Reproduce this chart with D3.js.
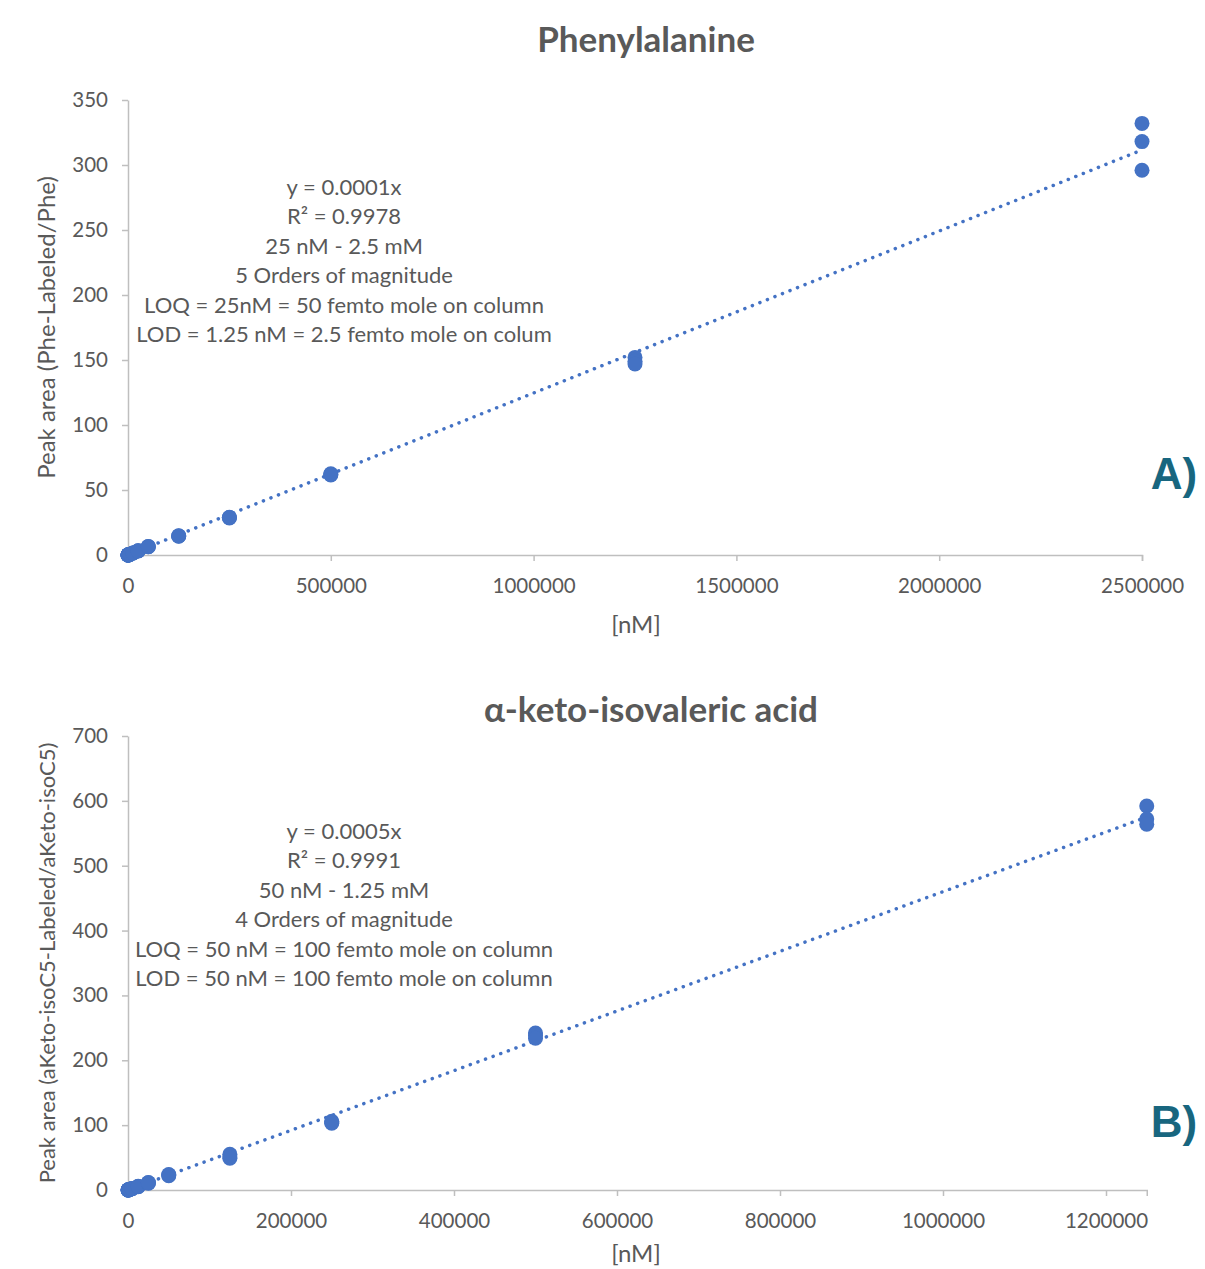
<!DOCTYPE html>
<html>
<head>
<meta charset="utf-8">
<script src="https://cdn.jsdelivr.net/npm/d3@7"></script>
<style>
  body { margin: 0; background: #fff; }
  svg text { font-family: Lato, "Open Sans", sans-serif; fill: #595959; }
</style>
</head>
<body>
<div id="wrapper"></div>
<script>
// --- Phenylalanine (panel A) ---
const concA = [
  25, 25, 50, 50, 125, 125, 250, 250, 500, 500, 1250, 1250, 2500, 2500,
  5000, 5000, 5000, 12500, 12500, 12500, 25000, 25000, 25000, 50000, 50000, 50000,
  125000, 125000, 125000, 250000, 250000, 250000, 500000, 500000, 500000,
  1250000, 1250000, 1250000, 2500000, 2500000, 2500000
];
const areaA = [
  0.004, 0.003, 0.007, 0.006, 0.016, 0.015, 0.032, 0.03, 0.063, 0.06, 0.16, 0.15, 0.32, 0.3,
  0.65, 0.62, 0.6, 1.6, 1.5, 1.55, 3.3, 3.1, 3.2, 6.6, 6.3, 6.4,
  14.8, 14.5, 14.6, 29, 28.5, 28.8, 62.5, 62, 61.5,
  152, 149, 147, 332, 318, 296
];
const slopeA = 0.0001246;
const xTicksA = [0, 500000, 1000000, 1500000, 2000000, 2500000];
const yTicksA = [0, 50, 100, 150, 200, 250, 300, 350];
const notesA = [
  "y = 0.0001x",
  "R² = 0.9978",
  "25 nM - 2.5 mM",
  "5 Orders of magnitude",
  "LOQ = 25nM = 50 femto mole on column",
  "LOD = 1.25 nM = 2.5 femto mole on colum"
];

// --- alpha-keto-isovaleric acid (panel B) ---
const concB = [
  50, 50, 125, 125, 250, 250, 500, 500, 1250, 1250, 2500, 2500,
  5000, 5000, 5000, 12500, 12500, 12500, 25000, 25000, 25000, 50000, 50000, 50000,
  125000, 125000, 125000, 250000, 250000, 250000, 500000, 500000, 500000,
  1250000, 1250000, 1250000
];
const areaB = [
  0.02, 0.025, 0.06, 0.055, 0.12, 0.11, 0.24, 0.22, 0.6, 0.58, 1.1, 1.2,
  2.3, 2.2, 2.1, 5.5, 5.2, 5.8, 11, 10.5, 11.5, 23, 22, 24,
  55, 51, 49, 106, 104, 103, 242, 238, 234,
  592, 572, 564
];
const slopeB = 0.00046;
const xTicksB = [0, 200000, 400000, 600000, 800000, 1000000, 1200000];
const yTicksB = [0, 100, 200, 300, 400, 500, 600, 700];
const notesB = [
  "y = 0.0005x",
  "R² = 0.9991",
  "50 nM - 1.25 mM",
  "4 Orders of magnitude",
  "LOQ = 50 nM = 100 femto mole on column",
  "LOD = 50 nM = 100 femto mole on column"
];

const width = 1205;
const height = 1269;
const dotColor = "#4472c4";
const axisColor = "#bfbfbf";

const svg = d3.select("#wrapper")
  .append("svg")
  .attr("width", width)
  .attr("height", height);

function drawPanel(cfg) {
  const g = svg.append("g");

  const xScale = d3.scaleLinear()
    .domain([0, cfg.xMax])
    .range([cfg.left, cfg.right]);
  const yScale = d3.scaleLinear()
    .domain([0, cfg.yMax])
    .range([cfg.bottom, cfg.top]);

  // axes
  const xAxis = g.append("g")
    .attr("transform", `translate(0,${cfg.bottom})`)
    .call(d3.axisBottom(xScale).tickValues(cfg.xTicks).tickFormat(d3.format("d")).tickSizeInner(6).tickSizeOuter(6).tickPadding(17));
  const yAxis = g.append("g")
    .attr("transform", `translate(${cfg.left},0)`)
    .call(d3.axisLeft(yScale).tickValues(cfg.yTicks).tickSizeInner(6).tickSizeOuter(0).tickPadding(14));

  [xAxis, yAxis].forEach(ax => {
    ax.selectAll("path, line").attr("stroke", axisColor).attr("stroke-width", 1.5);
    ax.selectAll("text").attr("font-size", 20.5).attr("fill", "#595959")
      .style("font-family", "Lato, 'Open Sans', sans-serif");
  });

  // trendline through origin (dotted)
  g.append("line")
    .attr("x1", xScale(0))
    .attr("y1", yScale(0))
    .attr("x2", xScale(cfg.xMax))
    .attr("y2", yScale(cfg.slope * cfg.xMax))
    .attr("stroke", dotColor)
    .attr("stroke-width", 3.5)
    .attr("stroke-linecap", "round")
    .attr("stroke-dasharray", "0.1 8");

  // points
  g.selectAll("circle")
    .data(d3.zip(cfg.conc, cfg.area))
    .enter().append("circle")
    .attr("cx", d => xScale(d[0]))
    .attr("cy", d => yScale(d[1]))
    .attr("r", 7.5)
    .attr("fill", dotColor);

  // title
  g.append("text")
    .attr("x", cfg.titleX)
    .attr("y", cfg.titleY)
    .attr("text-anchor", "middle")
    .attr("font-size", 35)
    .attr("font-weight", "bold")
    .text(cfg.title);

  // axis titles
  g.append("text")
    .attr("x", 636)
    .attr("y", cfg.xTitleY)
    .attr("text-anchor", "middle")
    .attr("font-size", 24)
    .text("[nM]");
  g.append("text")
    .attr("transform", `translate(55,${(cfg.top + cfg.bottom) / 2}) rotate(-90)`)
    .attr("text-anchor", "middle")
    .attr("font-size", cfg.yTitleSize)
    .text(cfg.yTitle);

  // regression annotation
  g.append("g")
    .selectAll("text")
    .data(cfg.notes)
    .enter().append("text")
    .attr("x", 344)
    .attr("y", (d, i) => cfg.noteY + i * 29.4)
    .attr("text-anchor", "middle")
    .attr("font-size", 22)
    .text(d => d);

  // panel label
  g.append("text")
    .attr("x", 1174)
    .attr("y", cfg.labelY)
    .attr("text-anchor", "middle")
    .attr("font-size", 44)
    .attr("font-weight", "bold")
    .style("font-family", "'Liberation Sans', Arial, sans-serif")
    .style("fill", "#18667f")
    .text(cfg.label);
}

drawPanel({
  conc: concA, area: areaA, slope: slopeA,
  xMax: 2500000, yMax: 350, xTicks: xTicksA, yTicks: yTicksA,
  left: 128, right: 1142, top: 100, bottom: 555,
  title: "Phenylalanine", titleX: 646, titleY: 52,
  xTitleY: 633, yTitle: "Peak area (Phe-Labeled/Phe)", yTitleSize: 24,
  notes: notesA, noteY: 195, label: "A)", labelY: 489
});

drawPanel({
  conc: concB, area: areaB, slope: slopeB,
  xMax: 1250000, yMax: 700, xTicks: xTicksB, yTicks: yTicksB,
  left: 128, right: 1146.75, top: 736, bottom: 1190,
  title: "α-keto-isovaleric acid", titleX: 651, titleY: 722,
  xTitleY: 1262, yTitle: "Peak area (aKeto-isoC5-Labeled/aKeto-isoC5)", yTitleSize: 22,
  notes: notesB, noteY: 839, label: "B)", labelY: 1137
});
</script>
</body>
</html>
